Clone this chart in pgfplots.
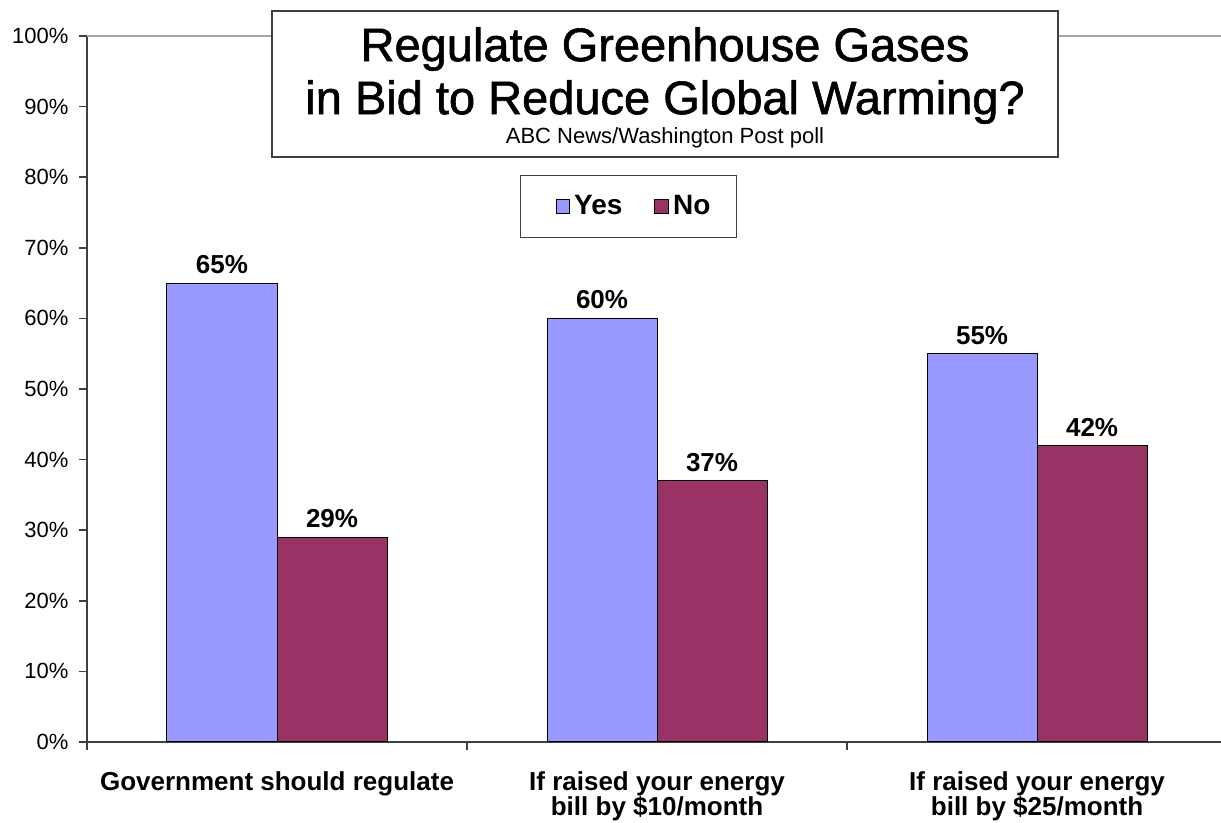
\documentclass[border=0pt]{standalone}
\usepackage{pgfplots}
\pgfplotsset{compat=1.18}
\usepackage{fontspec}
\setmainfont{Liberation Sans}
\newfontfamily\titlefont[FakeBold=1.3]{Liberation Sans}
\definecolor{yescol}{HTML}{9999FF}
\definecolor{nocol}{HTML}{993366}
\definecolor{axgray}{HTML}{404040}
\begin{document}
\begin{tikzpicture}
\path[use as bounding box] (-43.5pt,-40.5pt) rectangle (567pt,371pt);
\begin{axis}[
  scale only axis, width=567pt, height=353pt,
  xmin=-0.5, xmax=2.484, ymin=0, ymax=100,
  axis x line*=bottom, axis y line*=left,
  axis line style={draw=axgray, line width=0.8pt},
  tick align=outside, major tick length=3.8pt,
  tick style={draw=axgray, line width=0.8pt},
  ybar=0pt, bar width=0.2895,
  ytick={0,10,...,100},
  yticklabels={0\%,10\%,20\%,30\%,40\%,50\%,60\%,70\%,80\%,90\%,100\%},
  yticklabel style={font=\fontsize{11}{12}\selectfont, text=black, xshift=-2pt},
  xtick={-0.5,0.5,1.5,2.5}, xticklabels={},
  extra x ticks={0,1,2},
  extra x tick labels={Government should regulate,{If raised your energy\\bill by \$10/month},{If raised your energy\\bill by \$25/month}},
  extra x tick style={major tick length=0pt},
  xticklabel style={align=center, font=\bfseries\fontsize{13}{12.5}\selectfont, text=black, yshift=-11.5pt, anchor=north},
  extra y ticks={100}, extra y tick labels={},
  extra y tick style={grid=major, major grid style={draw=gray!70, line width=0.8pt}, major tick length=0pt},
  nodes near coords={\pgfmathprintnumber{\pgfplotspointmeta}\%},
  nodes near coords style={font=\bfseries\fontsize{13}{14}\selectfont, text=black, /pgf/number format/assume math mode=true, yshift=1pt},
  legend style={at={(0.4775,0.7585)}, anchor=center, legend columns=2, draw=axgray, line width=0.8pt,
    font=\bfseries\fontsize{14}{15}\selectfont, inner xsep=11pt, inner ysep=8pt,
    /tikz/every even column/.append style={column sep=14pt}},
]
\addplot[fill=yescol, draw=black, line width=0.5pt,
  legend image code/.code={\path (-6.5pt,0pt); \draw[fill=yescol, draw=black, line width=0.5pt] (0pt,-3.4pt) rectangle (6.8pt,3.4pt);}]
  coordinates {(0,65) (1,60) (2,55)};
\addplot[fill=nocol, draw=black, line width=0.5pt,
  legend image code/.code={\draw[fill=nocol, draw=black, line width=0.5pt] (0pt,-3.4pt) rectangle (6.8pt,3.4pt);}]
  coordinates {(0,29) (1,37) (2,42)};
\legend{Yes,No}
\end{axis}
\draw[draw=axgray, line width=0.8pt, fill=white] (92.5pt,292.5pt) rectangle (485.5pt,365.5pt);
\node[font=\titlefont\fontsize{23.5}{26}\selectfont] at (289pt,346.5pt) {Regulate Greenhouse Gases};
\node[font=\titlefont\fontsize{23.5}{26}\selectfont] at (289pt,320pt) {in Bid to Reduce Global Warming?};
\node[font=\fontsize{11}{12}\selectfont] at (289pt,302pt) {ABC News/Washington Post poll};
\end{tikzpicture}
\end{document}
